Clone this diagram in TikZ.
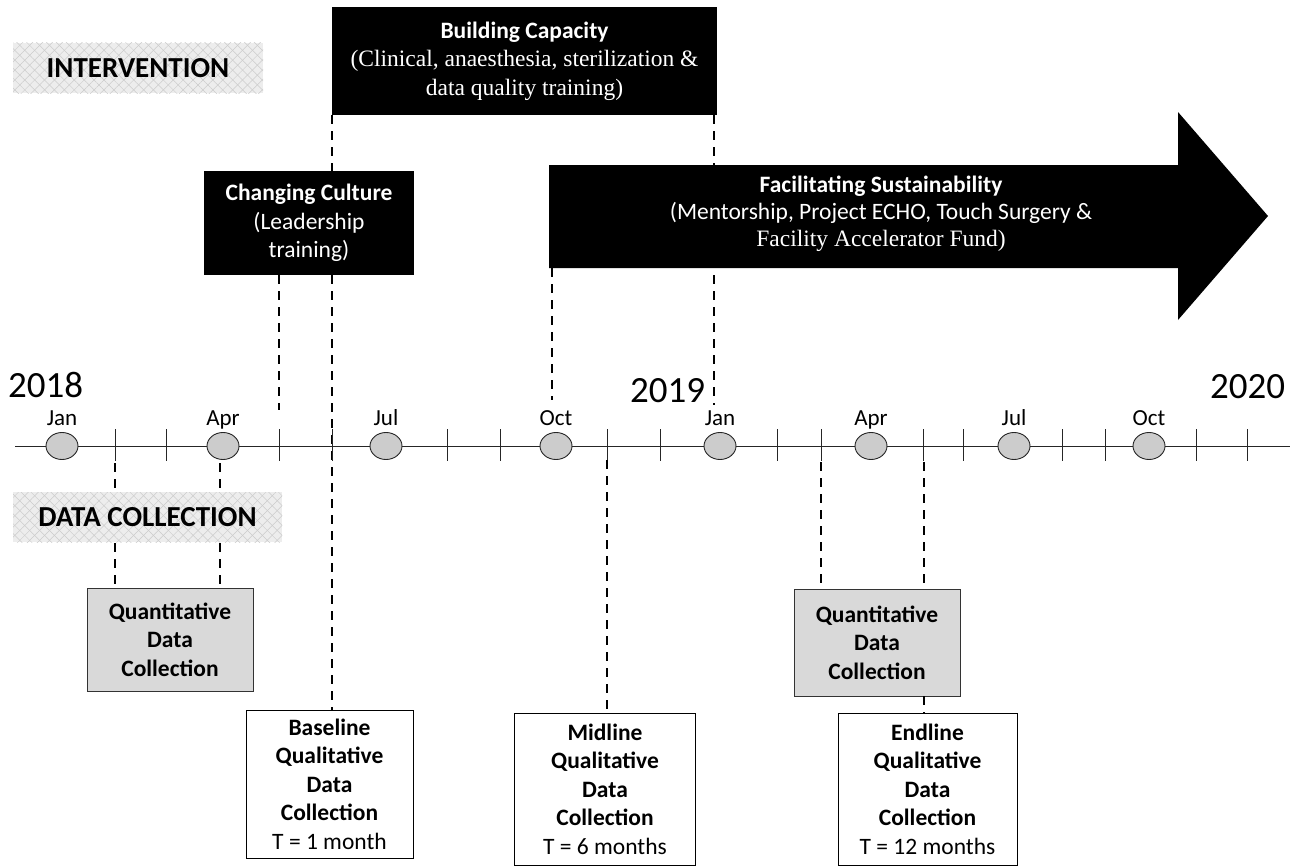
\documentclass[tikz,border=0pt]{standalone}
\usepackage{fontspec}
\setmainfont{Carlito}
\newfontfamily\tnr{Liberation Serif}
\newfontfamily\calfont{Carlito}
\usetikzlibrary{patterns.meta,shapes.geometric}
\begin{document}
\begin{tikzpicture}[x=1pt,y=-1pt,
  boxfont/.style={font=\calfont\fontsize{23.5}{28.5}\selectfont},
  blackbox/.style={fill=black,text=white,align=center,inner sep=0pt,boxfont},
  whitebox/.style={draw=black,line width=0.8pt,fill=white,align=center,inner sep=0pt,boxfont},
  greybox/.style={draw=black!80,line width=0.8pt,fill=black!15,align=center,inner sep=0pt,boxfont},
  dline/.style={line width=1.8pt,dash pattern=on 9pt off 7pt},
  hatchlabel/.style={fill=black!7,inner sep=0pt,font=\calfont\bfseries\fontsize{29}{32}\selectfont,
    postaction={pattern={Lines[angle=45,distance=7pt,line width=0.5pt]},pattern color=black!20},
    postaction={pattern={Lines[angle=-45,distance=7pt,line width=0.5pt]},pattern color=black!20}},
  month/.style={ellipse,draw=black!85,line width=0.9pt,fill=black!20,minimum width=32pt,minimum height=27pt,inner sep=0pt},
  mlabel/.style={font=\calfont\fontsize{23}{25}\selectfont,inner sep=0pt},
  ylabel/.style={font=\calfont\fontsize{37}{40}\selectfont,inner sep=0pt},
  tick/.style={line width=0.9pt,black!85}]
\useasboundingbox (0,0) rectangle (1293,867);

% ---------- coordinates for dashed connectors ----------
\coordinate (ccend) at (279,410);
\coordinate (bcrend) at (714,405);
\coordinate (fsend) at (552,400);
\coordinate (d1) at (115,463);
\coordinate (d2) at (220,463);
\coordinate (d4) at (607,460);
\coordinate (d5) at (821,462);
\coordinate (d6) at (924,462);

% ---------- intervention boxes ----------
\node[blackbox,minimum width=385pt,minimum height=108pt] (bc) at (524.5,61)
  {{\calfont\bfseries Building Capacity}\\
   {\tnr (Clinical, anaesthesia, sterilization \&}\\
   {\tnr data quality training)}};

\node[whitebox,minimum width=167pt,minimum height=148pt] (base) at (329.5,784)
  {\textbf{Baseline}\\\textbf{Qualitative}\\\textbf{Data}\\\textbf{Collection}\\{\calfont T = 1 month}};

\draw[dline] (bc.south west) -- (bc.south west |- base.north);
\draw[dline] (bcrend |- bc.south) -- (bcrend);

\node[blackbox,minimum width=210pt,minimum height=104pt] (cc) at (309,223)
  {{\calfont\bfseries Changing Culture}\\{\calfont (Leadership}\\{\calfont training)}};
\draw[dline] (ccend |- cc.south) -- (ccend);

\fill[black] (549,165) coordinate (fstl) -- (1178,165) -- (1178,112) -- (1268,216) coordinate (fstip)
  -- (1178,320) -- (1178,268) -- (549,268) coordinate (fsbl) -- cycle;
\node[align=center,text=white,inner sep=0pt,font=\calfont\fontsize{23.5}{27}\selectfont] (fs) at (881,214)
  {{\calfont\bfseries Facilitating Sustainability}\\{\calfont (Mentorship, Project ECHO, Touch Surgery \&}\\
   {\tnr Facility Accelerator Fund)}};
\draw[dline] (fsend |- fsbl) -- (fsend);

% ---------- section labels ----------
\node[hatchlabel,minimum width=250pt,minimum height=50pt] (intv) at (138,68) {INTERVENTION};

% ---------- timeline ----------
\coordinate (tlstart) at (15,446);
\coordinate (tlend) at (1290,446);
\draw[line width=0.9pt,black!85] (tlstart) -- (tlend);
\foreach \x in {115,166,279,332,447,500,607,660,777,821,923,963,1062,1105,1196,1247}
  \draw[tick] (\x,429) -- (\x,461);

\foreach \x/\m/\n in {62/Jan/m1,223/Apr/m2,386/Jul/m3,556/Oct/m4,720/Jan/m5,871/Apr/m6,1014/Jul/m7,1149/Oct/m8}{
  \node[month] (\n) at (\x,446) {};
  \node[mlabel,anchor=base] at (\x,425) {\m};
}
\node[ylabel,anchor=base west] (y18) at (8,397) {2018};
\node[ylabel,anchor=base west] (y19) at (630,402) {2019};
\node[ylabel,anchor=base west] (y20) at (1210,398) {2020};

% ---------- data collection ----------
\node[greybox,minimum width=166pt,minimum height=103pt] (q1) at (170,639.5)
  {\textbf{Quantitative}\\\textbf{Data}\\\textbf{Collection}};
\node[greybox,minimum width=166pt,minimum height=107pt] (q2) at (877,642.5)
  {\textbf{Quantitative}\\\textbf{Data}\\\textbf{Collection}};
\node[whitebox,minimum width=181pt,minimum height=152pt] (mid) at (605,789)
  {\textbf{Midline}\\\textbf{Qualitative}\\\textbf{Data}\\\textbf{Collection}\\{\calfont T = 6 months}};
\node[whitebox,minimum width=179pt,minimum height=152pt] (endl) at (927.5,789)
  {\textbf{Endline}\\\textbf{Qualitative}\\\textbf{Data}\\\textbf{Collection}\\{\calfont T = 12 months}};

\draw[dline] (d1) -- (d1 |- q1.north);
\draw[dline] (d2) -- (d2 |- q1.north);
\draw[dline] (d4) -- (d4 |- mid.north);
\draw[dline] (d5) -- (d5 |- q2.north);
\draw[dline] (d6) -- (d6 |- q2.north);
\draw[dline] (d6 |- q2.south) -- (d6 |- endl.north);

\node[hatchlabel,minimum width=269pt,minimum height=50pt] (dc) at (147.5,517) {DATA COLLECTION};
\end{tikzpicture}
\end{document}
